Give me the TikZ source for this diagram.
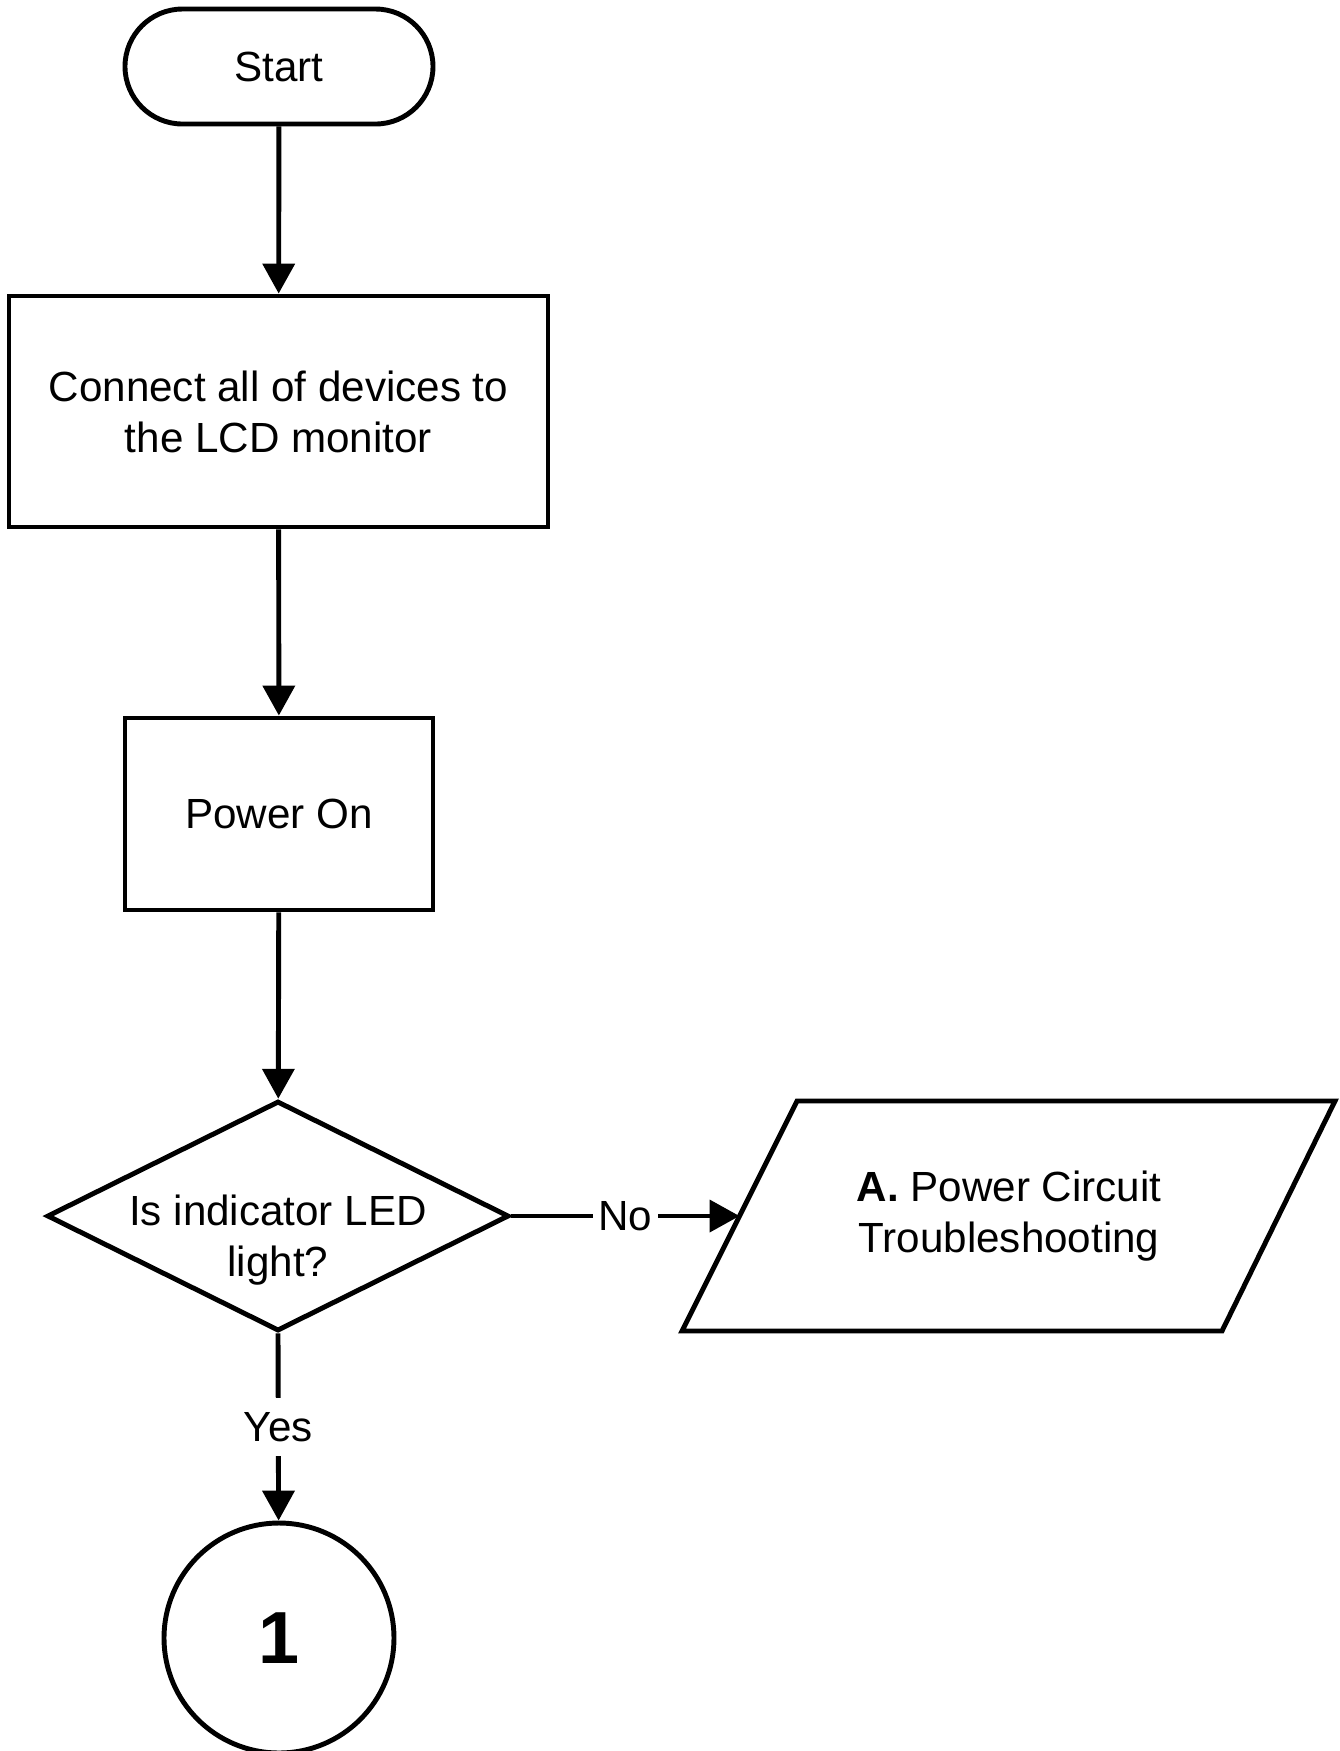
\documentclass[tikz,border=0pt]{standalone}
\usepackage{fontspec}
\setmainfont{Liberation Sans}
\usepackage{tikz}
\usetikzlibrary{arrows.meta,positioning,shapes.geometric}

\begin{document}
\begin{tikzpicture}[
    font=\fontsize{12}{14.5}\selectfont,
    line width=1.4pt,
    flow/.style={-{Triangle[length=8.5pt,width=9pt]}},
    procbox/.style={draw,rectangle,align=center,inner sep=0pt},
    termbox/.style={draw,rectangle,rounded corners=0.575cm,minimum width=3.08cm,minimum height=1.15cm},
    decbox/.style={draw,diamond,minimum width=4.62cm,minimum height=2.30cm,inner sep=0pt},
    linkcirc/.style={draw,circle,minimum size=2.30cm,inner sep=0pt,font=\fontsize{21}{25}\selectfont\bfseries},
    answer/.style={fill=white,inner xsep=1.5pt,inner ysep=4pt}
  ]
  \useasboundingbox (0,0) rectangle (13.40,-17.51);
  % --- Nodes ---
  \node[termbox] (start) at (2.79,-0.665) {Start};
  \node[procbox,minimum width=5.39cm,minimum height=2.31cm] (connect) at (2.785,-4.115)
       {Connect all of devices to\\the LCD monitor};
  \node[procbox,minimum width=3.08cm,minimum height=1.92cm] (power) at (2.79,-8.14) {Power On};
  \node[decbox] (check) at (2.78,-12.16) {};
  \node[align=center] (checktxt) at ([yshift=-0.24cm]check.center) {Is indicator LED\\light?};
  % data box (parallelogram), drawn by hand
  \draw (7.97,-11.01) -- (13.35,-11.01) -- (12.22,-13.31) -- (6.82,-13.31) -- cycle;
  \node[align=center] (pcircuit) at (10.09,-12.16) {\textbf{A.} Power Circuit\\Troubleshooting};
  \coordinate (pcin) at (7.395,-12.16);
  \node[linkcirc] (link1) at (2.79,-16.38) {1};
  % --- Connectors ---
  \draw[flow] (start) -- (connect);
  \draw[flow] (connect) -- (power);
  \draw[flow] (power) -- (check);
  \draw[flow] (check.east) -- node[answer] {No} (pcin);
  \draw[flow] (check.south) -- node[answer] {Yes} (link1);
\end{tikzpicture}
\end{document}
